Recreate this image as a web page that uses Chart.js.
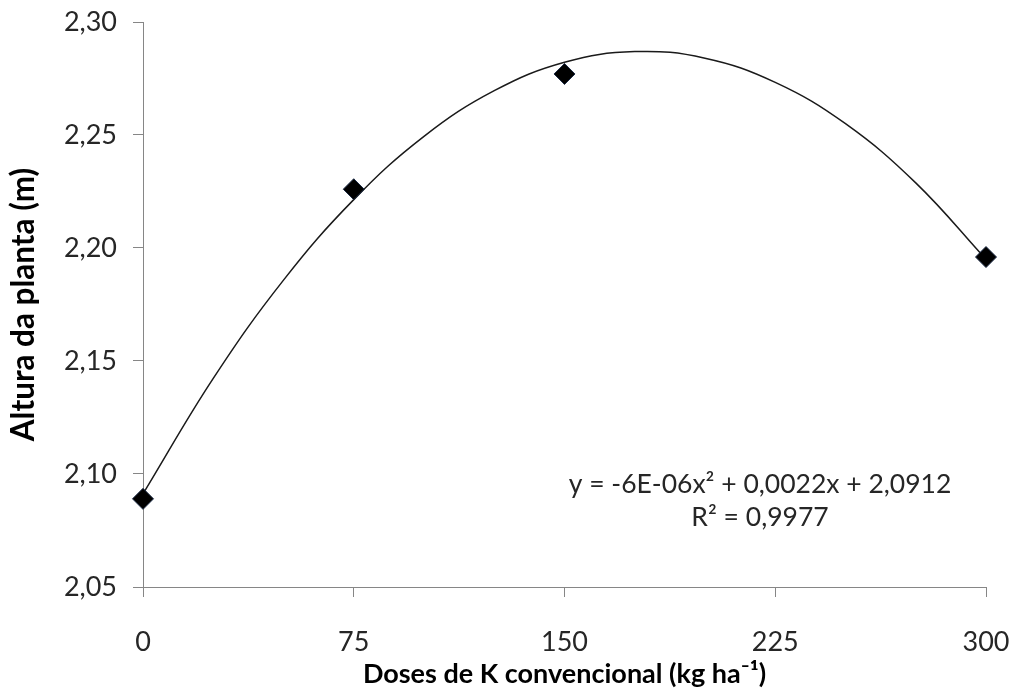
<!DOCTYPE html>
<html>
<head>
<meta charset="utf-8">
<script src="https://cdn.jsdelivr.net/npm/chart.js@4"></script>
<style>
  html, body { margin: 0; padding: 0; background: #ffffff; }
  #wrap { width: 1015px; height: 689px; }
</style>
</head>
<body>
<div id="wrap"><canvas id="c" width="1015" height="689"></canvas></div>
<script>
// Observed plant height at each K dose
const doses = [0, 75, 150, 300];
const altura = [2.089, 2.226, 2.277, 2.196];

// Quadratic trend line, sampled along the dose range
const trendX = [0, 25, 50, 75, 100, 125, 150, 175, 200, 225, 250, 275, 300];
const trendY = [2.0912, 2.1423, 2.1858, 2.2214, 2.2494, 2.2696, 2.2822, 2.2869, 2.2840, 2.2733, 2.2550, 2.2288, 2.1950];

// Axis ticks
const xTicks = [0, 75, 150, 225, 300];
const yTicks = [2.05, 2.10, 2.15, 2.20, 2.25, 2.30];

const equationLines = ['y = -6E-06x² + 0,0022x + 2,0912', 'R² = 0,9977'];

const FONT = 'Lato, "Open Sans", sans-serif';
const AXIS_GREY = '#868686';
const TEXT = '#262626';

const equationPlugin = {
  id: 'equationText',
  afterDatasetsDraw(chart) {
    const { ctx, chartArea } = chart;
    ctx.save();
    ctx.font = '26.5px ' + FONT;
    ctx.fillStyle = TEXT;
    ctx.textAlign = 'center';
    ctx.textBaseline = 'middle';
    const cx = chartArea.left + 617;
    const cy = chartArea.top + 462;
    equationLines.forEach((t, i) => ctx.fillText(t, cx, cy + i * 33));
    ctx.restore();
  }
};

new Chart(document.getElementById('c'), {
  type: 'scatter',
  data: {
    datasets: [
      {
        label: 'Altura',
        data: doses.map((d, i) => ({ x: d, y: altura[i] })),
        pointStyle: 'rectRot',
        pointRadius: 10.5,
        pointBackgroundColor: '#000000',
        pointBorderColor: '#1b2a44',
        pointBorderWidth: 1,
        showLine: false,
        clip: false,
        order: 0
      },
      {
        label: 'Polinomial',
        data: trendX.map((d, i) => ({ x: d, y: trendY[i] })),
        showLine: true,
        borderColor: '#1a1a1a',
        borderWidth: 1.5,
        pointRadius: 0,
        tension: 0.4,
        fill: false,
        clip: false,
        order: 1
      }
    ]
  },
  options: {
    responsive: false,
    animation: false,
    devicePixelRatio: 1,
    layout: { padding: { top: 22, right: 29, left: 0, bottom: 0 } },
    plugins: {
      legend: { display: false },
      tooltip: { enabled: false }
    },
    scales: {
      x: {
        type: 'linear',
        min: 0,
        max: 300,
        afterFit: (s) => { s.height = 102; s.paddingLeft = 0; s.paddingRight = 0; },
        afterBuildTicks: (s) => { s.ticks = xTicks.map(v => ({ value: v })); },
        grid: { drawOnChartArea: false, drawTicks: true, tickLength: 10, color: AXIS_GREY, lineWidth: 1 },
        border: { color: AXIS_GREY, width: 1 },
        ticks: {
          padding: 29,
          color: TEXT,
          font: { family: FONT, size: 27 },
          callback: (v) => String(v)
        },
        title: {
          display: true,
          text: 'Doses de K convencional (kg ha⁻¹)',
          color: '#000000',
          font: { family: FONT, size: 27, weight: 'bold' },
          padding: { top: 0, bottom: -1 }
        }
      },
      y: {
        type: 'linear',
        min: 2.05,
        max: 2.30,
        afterFit: (s) => { s.width = 143; s.paddingTop = 0; s.paddingBottom = 0; },
        afterBuildTicks: (s) => { s.ticks = yTicks.map(v => ({ value: v })); },
        grid: { drawOnChartArea: false, drawTicks: true, tickLength: 10, color: AXIS_GREY, lineWidth: 1 },
        border: { color: AXIS_GREY, width: 1 },
        ticks: {
          padding: 16,
          color: TEXT,
          font: { family: FONT, size: 27 },
          callback: (v) => v.toFixed(2).replace('.', ',')
        },
        title: {
          display: true,
          text: 'Altura da planta (m)',
          color: '#000000',
          font: { family: FONT, size: 31.5, weight: 'bold' },
          padding: { top: 5, bottom: 0 }
        }
      }
    }
  },
  plugins: [equationPlugin]
});
</script>
</body>
</html>
